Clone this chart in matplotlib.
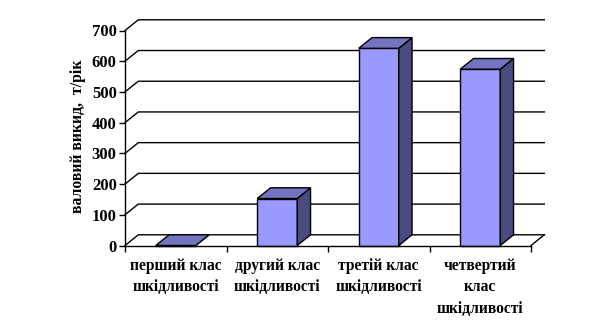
import matplotlib
matplotlib.use("Agg")
import matplotlib.pyplot as plt
from matplotlib.patches import Polygon
from matplotlib.lines import Line2D

categories = ["перший клас\nшкідливості", "другий клас\nшкідливості",
              "третій клас\nшкідливості", "четвертий\nклас\nшкідливості"]
values = [0, 153, 642, 574]
y_ticks = [0, 100, 200, 300, 400, 500, 600, 700]
y_label = "валовий викид,  т/рік"

front_col = "#9999FF"
top_col = "#7373C0"
side_col = "#4B4B80"

plt.rcParams['font.family'] = ['Liberation Serif', 'DejaVu Serif']

W, H, DPI = 604, 336, 100
fig = plt.figure(figsize=(W / DPI, H / DPI), dpi=DPI)
left_px, right_px, bot_px, top_px = 125, 531, 245.5, 30.5
ax = fig.add_axes([left_px / W, (H - bot_px) / H, (right_px - left_px) / W, (bot_px - top_px) / H])

n = len(categories)
ax.set_xlim(-0.5, n - 0.5)
ax.set_ylim(0, 700)

# depth offset in data units (derived from pixel scale)
px_per_cat = (right_px - left_px) / n
px_per_unit = (bot_px - top_px) / 700
dx = 13.3 / px_per_cat
dy = 10.7 / px_per_unit

# back wall gridlines + side wall diagonals
for t in y_ticks:
    ax.add_line(Line2D([-0.5, -0.5 + dx, n - 0.5 + dx], [t, t + dy, t + dy],
                       color="black", lw=1.0, clip_on=False, zorder=1))
# floor right edge
ax.add_line(Line2D([n - 0.5, n - 0.5 + dx], [0, dy], color="black", lw=1.0,
                   clip_on=False, zorder=1))

w = 0.394
xs = list(range(n))
ax.bar(xs, values, width=w, color=front_col, edgecolor="black", linewidth=1.0,
       zorder=3, clip_on=False)
for x, v in zip(xs, values):
    x0, x1 = x - w / 2, x + w / 2
    top = Polygon([(x0, v), (x1, v), (x1 + dx, v + dy), (x0 + dx, v + dy)],
                  closed=True, facecolor=top_col, edgecolor="black", lw=1.0,
                  zorder=3, clip_on=False)
    side = Polygon([(x1, 0), (x1, v), (x1 + dx, v + dy), (x1 + dx, dy)],
                   closed=True, facecolor=side_col, edgecolor="black", lw=1.0,
                   zorder=3, clip_on=False)
    ax.add_patch(side)
    ax.add_patch(top)

for s in ["top", "right"]:
    ax.spines[s].set_visible(False)
for s in ["left", "bottom"]:
    ax.spines[s].set_linewidth(1.0)
    ax.spines[s].set_zorder(4)

ax.set_yticks(y_ticks)
ax.set_yticklabels([str(t) for t in y_ticks], fontsize=12, fontweight="bold")
ax.tick_params(axis="y", direction="out", length=4, width=1.0, pad=2)

ax.set_xticks(xs)
ax.set_xticklabels(categories, fontsize=11.2, fontweight="bold", linespacing=1.45,
                   va="top")
ax.set_xticks([x - 0.5 for x in range(n + 1)], minor=True)
ax.tick_params(axis="x", which="major", length=0, pad=9)
ax.tick_params(axis="x", which="minor", direction="out", length=4, width=1.0)

fig.text(78 / W, 1 - 136 / H, y_label, rotation=90, ha="center", va="center",
         fontsize=11.3, fontweight="bold")

fig.savefig("out.png", dpi=DPI)
